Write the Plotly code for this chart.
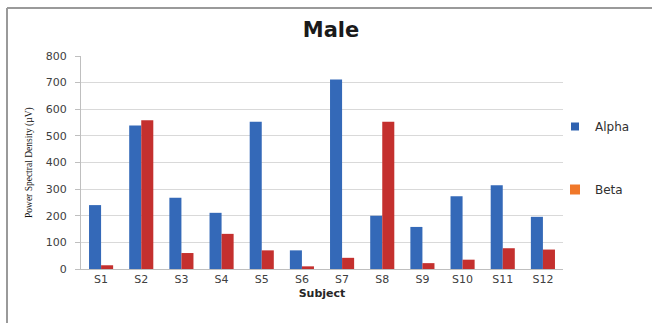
import plotly.graph_objects as go

subjects = ["S1", "S2", "S3", "S4", "S5", "S6", "S7", "S8", "S9", "S10", "S11", "S12"]
alpha = [240, 539, 268, 211, 553, 70, 712, 200, 158, 273, 315, 196]
beta = [14, 559, 60, 132, 70, 10, 42, 553, 22, 35, 78, 73]
y_ticks = [0, 100, 200, 300, 400, 500, 600, 700, 800]

W, H = 652, 323
L, R, T, B = 81, 89, 56, 54
pw, ph = W - L - R, H - T - B

def px(x):
    return (x - L) / pw

def py(y):
    return (H - B - y) / ph

FONT = "DejaVu Sans"

fig = go.Figure()
fig.add_trace(go.Bar(x=subjects, y=alpha, name="Alpha", marker=dict(color="#3469B8", line=dict(width=0)), showlegend=False))
fig.add_trace(go.Bar(x=subjects, y=beta, name="Beta", marker=dict(color="#C4302E", line=dict(width=0)), showlegend=False))
# legend swatches
fig.add_trace(go.Scatter(x=[None], y=[None], mode="markers", name="Alpha", legendgroup="a",
                         marker=dict(symbol="square", size=8, color="#2F62B0")))
fig.add_trace(go.Scatter(x=[None], y=[None], mode="markers", name="Beta", legendgroup="b",
                         marker=dict(symbol="square", size=10, color="#F0782A")))

fig.update_layout(
    width=W, height=H,
    margin=dict(l=L, r=R, t=T, b=B, autoexpand=False),
    paper_bgcolor="white", plot_bgcolor="white",
    barmode="group", bargap=0.4, bargroupgap=0,
    title=dict(text="<b>Male</b>", x=px(331), xref="paper", xanchor="center",
               y=1 - 30 / H, yanchor="middle",
               font=dict(family=FONT, size=21, color="#1a1a1a")),
    font=dict(family=FONT, color="#404040"),
    legend=dict(x=px(555), y=py(112), xanchor="left", yanchor="top",
                traceorder="grouped", tracegroupgap=44,
                font=dict(family=FONT, size=12, color="#303030"),
                itemwidth=30, bgcolor="rgba(0,0,0,0)"),
    xaxis=dict(showgrid=False, showline=True, linecolor="#bfbfbf", linewidth=1,
               ticks="", tickfont=dict(size=11, color="#404040"),
               title=dict(text="<b>Subject</b>", font=dict(size=11, color="#262626"), standoff=4)),
    yaxis=dict(range=[0, 800], tickvals=y_ticks, showgrid=True, gridcolor="#d9d9d9", gridwidth=1,
               showline=True, linecolor="#bfbfbf", linewidth=1, zeroline=False,
               ticks="outside", ticklen=5, tickcolor="#bfbfbf", ticklabelstandoff=6,
               tickfont=dict(size=11, color="#404040")),
    shapes=[
        dict(type="line", xref="paper", yref="paper", x0=px(7), x1=px(W + 5), y0=py(8), y1=py(8),
             line=dict(color="#9a9a9a", width=2)),
        dict(type="line", xref="paper", yref="paper", x0=px(7), x1=px(7), y0=py(8), y1=py(H + 5),
             line=dict(color="#9a9a9a", width=2)),
    ],
    annotations=[
        dict(text="Power Spectral Density (µV)", xref="paper", yref="paper", x=px(29), y=py(163),
             xanchor="center", yanchor="middle", textangle=-90, showarrow=False,
             font=dict(family="Liberation Serif", size=9.5, color="#111111")),
    ],
)

fig.write_html("out.html", config={"displayModeBar": False},
               post_script="document.body.style.margin='0';")
